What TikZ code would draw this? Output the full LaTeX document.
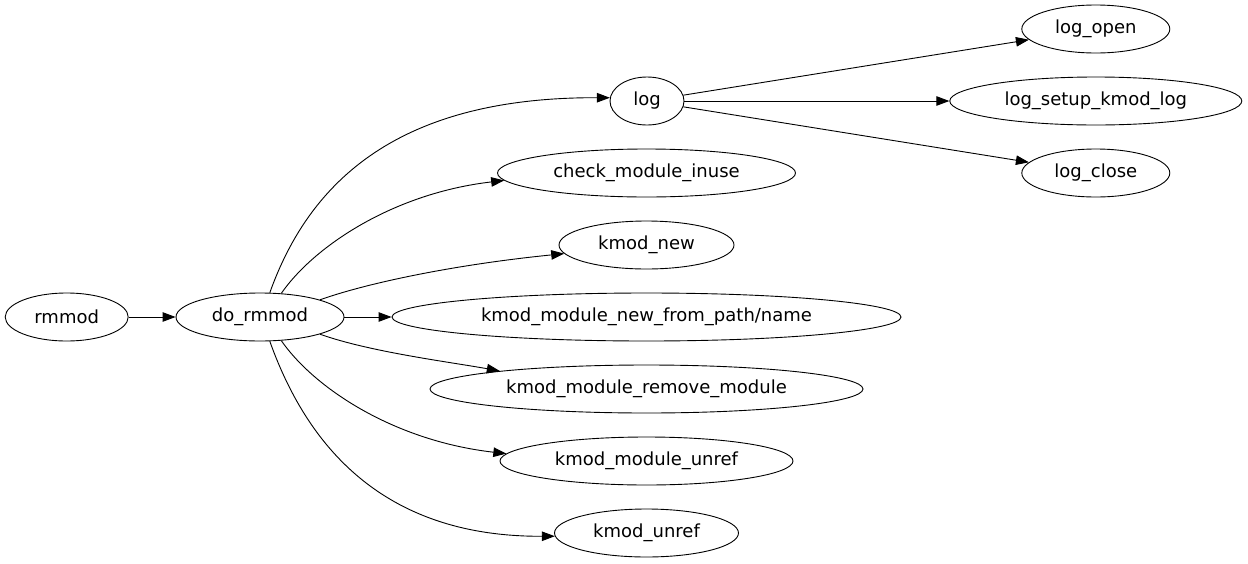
\documentclass[tikz,border=0pt]{standalone}
\usepackage{fontspec}
\setmainfont{DejaVu Sans}
\usetikzlibrary{shapes.geometric,arrows.meta}
\tikzset{
  gnode/.style={draw, ellipse, inner sep=0pt, minimum height=48pt, line width=0.9pt, font=\fontsize{18}{20}\selectfont},
  gedge/.style={line width=0.9pt, -{Triangle[length=13pt,width=9.5pt]}},
}
\begin{document}
\begin{tikzpicture}[x=1pt,y=-1pt]
\useasboundingbox (0,0) rectangle (1248,563);
\node[gnode, minimum width=123pt] (rmmod) at (66.7,317) {rmmod};
\node[gnode, minimum width=168pt] (dormmod) at (260,317) {do\_rmmod};
\node[gnode, minimum width=74pt] (log) at (647,101) {log};
\node[gnode, minimum width=298pt] (check) at (646.5,173) {check\_module\_inuse};
\node[gnode, minimum width=175pt] (kmodnew) at (646.5,245) {kmod\_new};
\node[gnode, minimum width=509pt] (newfrom) at (646.5,317) {kmod\_module\_new\_from\_path/name};
\node[gnode, minimum width=433pt] (remove) at (646.5,389) {kmod\_module\_remove\_module};
\node[gnode, minimum width=293pt] (modunref) at (646.5,461) {kmod\_module\_unref};
\node[gnode, minimum width=184pt] (kmodunref) at (646.5,533) {kmod\_unref};
\node[gnode, minimum width=148pt] (logopen) at (1095.8,29) {log\_open};
\node[gnode, minimum width=292pt] (logsetup) at (1095.8,101) {log\_setup\_kmod\_log};
\node[gnode, minimum width=148pt] (logclose) at (1095.8,173) {log\_close};

\draw[gedge] (rmmod) -- (dormmod);
\draw[gedge] (dormmod.68) .. controls (310,180) and (400,97) .. (log.175);
\draw[gedge] (dormmod.48) .. controls (315,245) and (395,193) .. (check.183);
\draw[gedge] (dormmod.16) .. controls (370,282) and (460,264) .. (kmodnew.186);
\draw[gedge] (dormmod) -- (newfrom);
\draw[gedge] (dormmod.-16) .. controls (370,352) and (450,362) .. (remove.173);
\draw[gedge] (dormmod.-48) .. controls (315,389) and (395,441) .. (modunref.177);
\draw[gedge] (dormmod.-68) .. controls (310,454) and (390,537) .. (kmodunref.182);
\draw[gedge] (log) -- (logopen);
\draw[gedge] (log) -- (logsetup);
\draw[gedge] (log) -- (logclose);
\end{tikzpicture}
\end{document}
